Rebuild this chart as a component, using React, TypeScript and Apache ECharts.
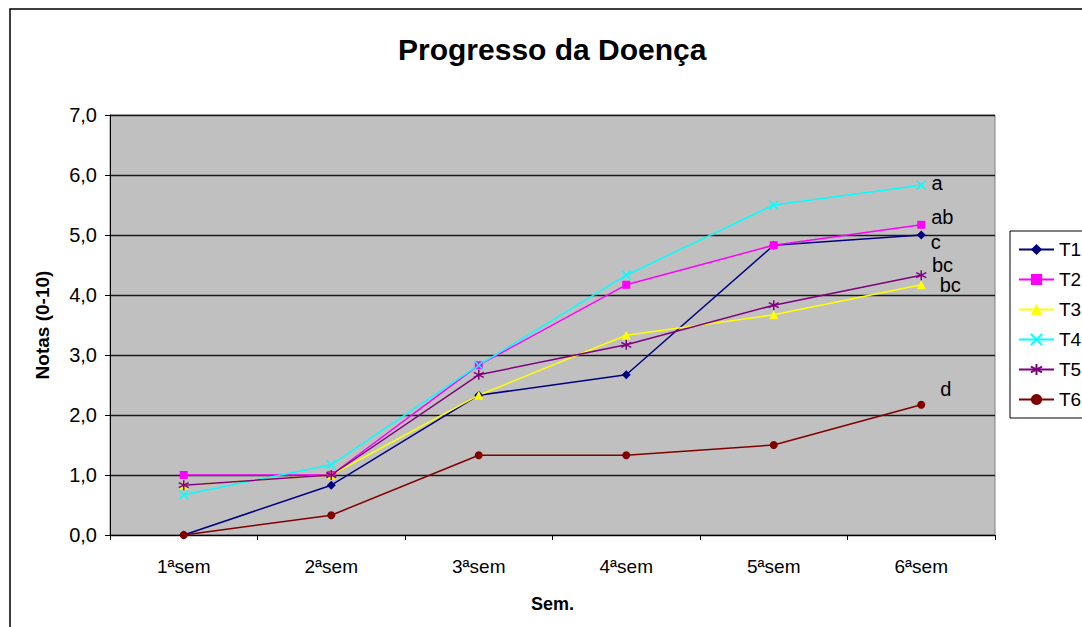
import React, { useEffect, useRef } from "react";
import * as echarts from "echarts";

const categories = ["1ªsem", "2ªsem", "3ªsem", "4ªsem", "5ªsem", "6ªsem"];
const seriesNames = ["T1", "T2", "T3", "T4", "T5", "T6"];
const T1 = [0, 0.83, 2.33, 2.67, 4.83, 5.0];
const T2 = [1.0, 1.0, 2.83, 4.17, 4.83, 5.17];
const T3 = [0.83, 1.0, 2.33, 3.33, 3.67, 4.17];
const T4 = [0.67, 1.17, 2.83, 4.33, 5.5, 5.83];
const T5 = [0.83, 1.0, 2.67, 3.17, 3.83, 4.33];
const T6 = [0, 0.33, 1.33, 1.33, 1.5, 2.17];
const endLabels = ["c", "ab", "bc", "a", "bc", "d"];

const colors = ["#000080", "#FF00FF", "#FFFF00", "#00FFFF", "#800080", "#800000"];
const symbols = [
  "diamond",
  "rect",
  "triangle",
  "path://M0,0L10,10M10,0L0,10",
  "path://M5,0L5,10M0.5,2.5L9.5,7.5M9.5,2.5L0.5,7.5",
  "circle",
];
const symbolSizes = [9, 8, 9, 9, 10, 8];
const labelOffsets = [
  [0, 7],
  [1, -8],
  [9, 0],
  [0, -2],
  [0, -10],
  [10, -16],
];

export default function App() {
  const ref = useRef<HTMLDivElement>(null);
  useEffect(() => {
    if (!ref.current) return;
    const chart = echarts.init(ref.current, null, { renderer: "svg" });
    const all = [T1, T2, T3, T4, T5, T6];
    const font = "Liberation Sans, Arial, sans-serif";
    const series = all.map((vals, i) => {
      const isPath = symbols[i].startsWith("path://");
      return {
        name: seriesNames[i],
        type: "line",
        symbol: symbols[i],
        symbolSize: symbolSizes[i],
        lineStyle: { color: colors[i], width: 1.5 },
        itemStyle: isPath
          ? { color: colors[i], borderColor: colors[i], borderWidth: 1.5 }
          : { color: colors[i], borderWidth: 0 },
        data: vals.map((v, j) =>
          j === vals.length - 1
            ? {
                value: v,
                label: {
                  show: true,
                  position: "right",
                  formatter: endLabels[i],
                  offset: labelOffsets[i],
                  color: "#000",
                  fontSize: 20,
                  fontFamily: font,
                },
              }
            : v
        ),
      };
    });
    chart.setOption({
      animation: false,
      color: colors,
      title: {
        text: "Progresso da Doença",
        left: 393,
        top: 29,
        textStyle: { fontSize: 30, fontWeight: "bold", color: "#000", fontFamily: font },
      },
      legend: {
        orient: "vertical",
        left: 1010,
        top: 231,
        padding: [9, 40, 9, 8],
        itemWidth: 35,
        itemHeight: 14,
        itemGap: 11,
        borderColor: "#000",
        borderWidth: 1,
        backgroundColor: "#fff",
        textStyle: { fontSize: 19, color: "#000", fontFamily: font, padding: [0, 0, 0, 0] },
        data: seriesNames,
      },
      graphic: [
        {
          type: "rect",
          shape: { x: 10, y: 9, width: 1200, height: 800 },
          style: { fill: "none", stroke: "#000", lineWidth: 1.5 },
          z: -10,
        },
      ],
      grid: {
        left: 110,
        top: 115,
        width: 885,
        height: 420,
        show: true,
        backgroundColor: "#C0C0C0",
        borderColor: "#808080",
        borderWidth: 1,
      },
      xAxis: {
        type: "category",
        data: categories,
        boundaryGap: true,
        name: "Sem.",
        nameLocation: "middle",
        nameGap: 60,
        nameTextStyle: { fontSize: 18, fontWeight: "bold", color: "#000", fontFamily: font },
        axisLine: { lineStyle: { color: "#000", width: 1 } },
        axisTick: { show: true, length: 5, lineStyle: { color: "#000" } },
        axisLabel: { fontSize: 19, color: "#000", margin: 22, fontFamily: font },
        splitLine: { show: false },
      },
      yAxis: {
        type: "value",
        min: 0,
        max: 7,
        interval: 1,
        name: "Notas (0-10)",
        nameLocation: "middle",
        nameGap: 58,
        nameRotate: 90,
        nameTextStyle: { fontSize: 19, fontWeight: "bold", color: "#000", fontFamily: font },
        axisLine: { show: true, lineStyle: { color: "#000", width: 1 } },
        axisTick: { show: true, length: 5, lineStyle: { color: "#000" } },
        axisLabel: {
          fontSize: 20,
          color: "#000",
          margin: 13,
          fontFamily: font,
          formatter: (v: number) => v.toFixed(1).replace(".", ","),
        },
        splitLine: { show: true, lineStyle: { color: "#1a1a1a", width: 1.3 } },
      },
      series,
    });
    return () => chart.dispose();
  }, []);
  return (
    <div
      ref={ref}
      style={{ position: "absolute", left: 0, top: 0, width: 1082, height: 627, background: "#fff" }}
    />
  );
}
